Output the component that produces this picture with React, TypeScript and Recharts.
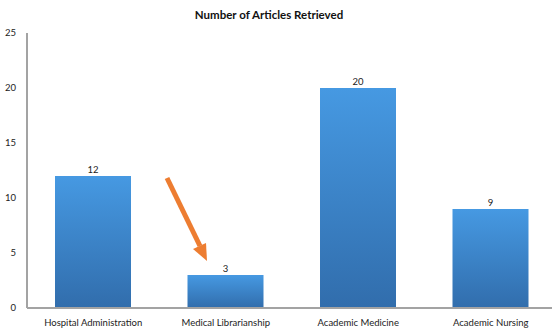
import { BarChart, Bar, XAxis, YAxis, LabelList } from 'recharts';

const categories = ['Hospital Administration', 'Medical Librarianship', 'Academic Medicine', 'Academic Nursing'];
const articles = [12, 3, 20, 9];
const yTicks = [0, 5, 10, 15, 20, 25];

const data = categories.map((name, i) => ({ name, articles: articles[i] }));

const FONT = 'Lato, "Open Sans", sans-serif';

function App() {
    return (
        <div style={{ position: 'absolute', left: 0, top: 0, width: 552, height: 329, overflow: 'hidden', background: '#fff' }}>
            <div style={{ position: 'absolute', left: 0, width: 538, top: 8, textAlign: 'center', fontFamily: FONT, fontWeight: 700, fontSize: 11.5, color: '#111' }}>
                Number of Articles Retrieved
            </div>
            <BarChart width={560} height={329} data={data} margin={{ top: 33, right: 3, left: 0, bottom: 0 }} barSize={76}>
                <defs>
                    <linearGradient id="barFill" x1="0" y1="0" x2="0" y2="1">
                        <stop offset="0%" stopColor="#4699e2" />
                        <stop offset="100%" stopColor="#316dac" />
                    </linearGradient>
                </defs>
                <XAxis dataKey="name" height={21} tickLine={false} tickMargin={5} interval={0}
                    axisLine={{ stroke: '#a3a3a3', strokeWidth: 2 }}
                    tick={{ fontSize: 9.5, fill: '#222', fontFamily: FONT }} />
                <YAxis width={27} domain={[0, 25]} ticks={yTicks} tickLine={false} tickMargin={5}
                    axisLine={{ stroke: '#a3a3a3', strokeWidth: 2 }}
                    tick={{ fontSize: 9.5, fill: '#222', fontFamily: FONT }} />
                <Bar dataKey="articles" fill="url(#barFill)" isAnimationActive={false}>
                    <LabelList dataKey="articles" position="top" offset={3} style={{ fontSize: 9.5, fill: '#222', fontFamily: FONT }} />
                </Bar>
            </BarChart>
            {/* orange annotation arrow */}
            <svg width={552} height={329} style={{ position: 'absolute', left: 0, top: 0, pointerEvents: 'none' }}>
                <line x1={167} y1={178} x2={200} y2={246} stroke="#ed7d31" strokeWidth={5} />
                <polygon points="207,261 193,249 206,243" fill="#ed7d31" />
            </svg>
        </div>
    );
}

export default App;
